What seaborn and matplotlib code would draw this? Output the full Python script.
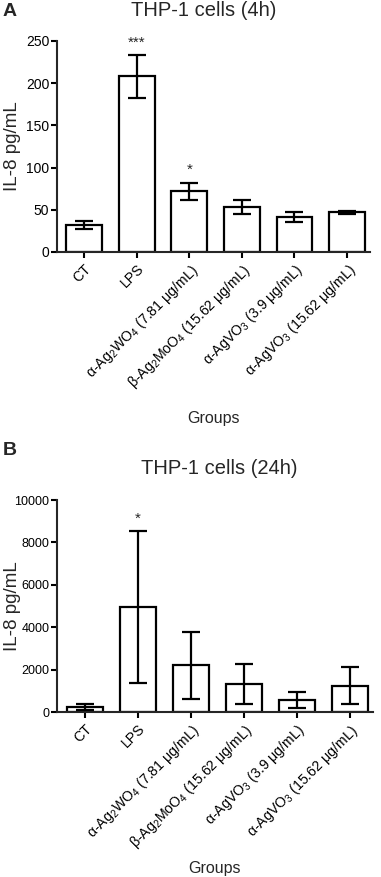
import matplotlib
matplotlib.use("Agg")
import matplotlib.pyplot as plt
import numpy as np
import pandas as pd
import seaborn as sns

# Group names (mathtext for the subscripts)
groups = ["CT", "LPS",
          "α-Ag$_2$WO$_4$ (7.81 μg/mL)",
          "β-Ag$_2$MoO$_4$ (15.62 μg/mL)",
          "α-AgVO$_3$ (3.9 μg/mL)",
          "α-AgVO$_3$ (15.62 μg/mL)"]

# IL-8 after 4h, mean and error
mean_4h = [32, 208, 72, 53, 41, 47]
err_4h = [4.5, 25, 10, 8.5, 6, 2]
stars_4h = ["", "***", "*", "", "", ""]

# IL-8 after 24h, mean and error
mean_24h = [230, 4950, 2200, 1330, 560, 1250]
err_24h = [150, 3580, 1580, 930, 370, 870]
stars_24h = ["", "*", "", "", "", ""]

sns.set_style("ticks")
plt.rcParams['font.family'] = ['Liberation Sans', 'DejaVu Sans']
plt.rcParams['mathtext.default'] = 'regular'
plt.rcParams['axes.linewidth'] = 1.5

fig = plt.figure(figsize=(3.81, 8.77), dpi=100)
ax_a = fig.add_axes([0.1496, 0.7127, 0.8215, 0.2406])
ax_b = fig.add_axes([0.1496, 0.1881, 0.8290, 0.2417])


def draw_panel(ax, means, errs, stars, ymax, step, ytick_size, xpad):
    df = pd.DataFrame({'group': groups, 'value': means})
    sns.barplot(x='group', y='value', data=df, ax=ax, color='white',
                saturation=1, edgecolor='black', linewidth=1.6, width=0.68,
                errorbar=None)
    ax.errorbar(np.arange(len(means)), means, yerr=errs, fmt='none',
                ecolor='black', elinewidth=1.6, capsize=6.5, capthick=1.6,
                zorder=5)
    # significance marks above the error bars
    for i, s in enumerate(stars):
        if s:
            ax.annotate(s, (i, means[i] + errs[i]), xytext=(0, 4),
                        textcoords='offset points', ha='center', va='bottom',
                        fontsize=11)
    ax.set_xlim(-0.52, 5.44)
    ax.set_ylim(0, ymax)
    ax.set_yticks(np.arange(0, ymax + 1, step))
    ax.tick_params(axis='both', width=1.5, length=4, pad=1.5, colors='black')
    ax.tick_params(axis='x', pad=3)
    ax.tick_params(axis='y', labelsize=ytick_size)
    ax.set_xticks(np.arange(len(groups)))
    ax.set_xticklabels(groups, rotation=45, ha='right', rotation_mode='anchor',
                       fontsize=10.2)
    ax.set_xlabel("Groups", fontsize=11.5, labelpad=xpad)
    ax.set_ylabel("IL-8 pg/mL", fontsize=13.5)
    ax.yaxis.set_label_coords(-0.115, 0.5)
    sns.despine(ax=ax)


draw_panel(ax_a, mean_4h, err_4h, stars_4h, 250, 50, 10, 14)
draw_panel(ax_b, mean_24h, err_24h, stars_24h, 10000, 2000, 9, 6.5)

fig.text(204 / 381, 1 - 11 / 877, "THP-1 cells (4h)", ha='center', va='center',
         fontsize=14.5)
fig.text(219 / 381, 1 - 469 / 877, "THP-1 cells (24h)", ha='center', va='center',
         fontsize=14.5)
fig.text(3 / 381, 1 - 11 / 877, "A", ha='left', va='center', fontsize=14,
         fontweight='bold')
fig.text(3 / 381, 1 - 450 / 877, "B", ha='left', va='center', fontsize=14,
         fontweight='bold')

fig.savefig("out.png", dpi=100)
